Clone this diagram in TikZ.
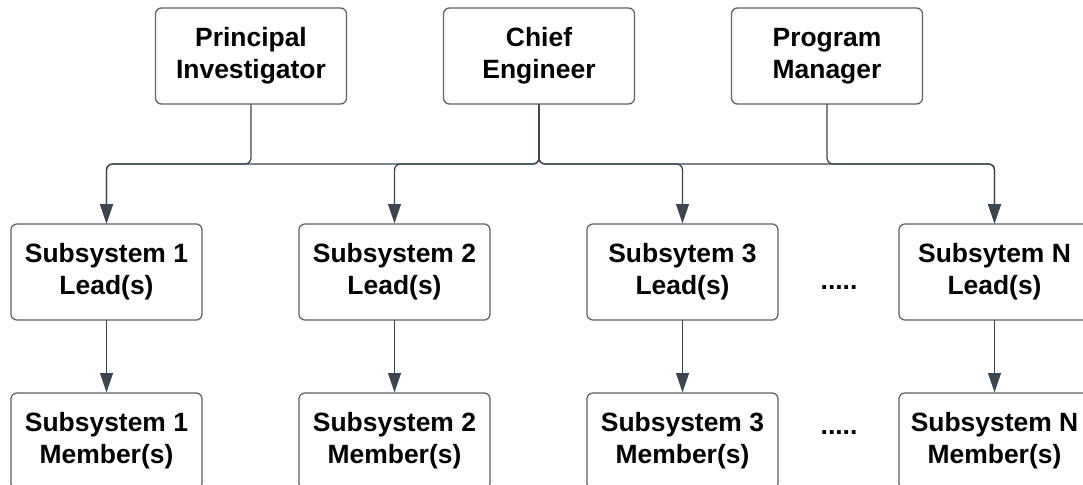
\documentclass[tikz,border=0pt]{standalone}
\usepackage{fontspec}
\setmainfont{Liberation Sans}
\usetikzlibrary{arrows.meta}

\definecolor{boxline}{HTML}{5E6168}
\definecolor{linkline}{HTML}{3F454E}

\tikzset{
  rolebox/.style={draw=boxline, line width=0.9pt, rounded corners=0.15cm, fill=white,
    minimum width=4.775cm, minimum height=2.4cm, inner sep=0pt, align=center,
    font=\bfseries\fontsize{18.8}{22.8}\selectfont},
  link/.style={draw=linkline, line width=0.9pt, rounded corners=0.15cm,
    -{Triangle[length=0.48cm,width=0.32cm]}},
  gap/.style={font=\bfseries\fontsize{18.8}{22.8}\selectfont, inner sep=0pt},
}

\begin{document}
\begin{tikzpicture}[x=0.025cm, y=-0.025cm, line cap=round, line join=round]
\useasboundingbox (0,0) rectangle (1083,485);
\clip (0,0) rectangle (1083,485);
% top row
\node[rolebox] (pi) at (251,56) {Principal\\Investigator};
\node[rolebox] (chief) at (539,56) {Chief\\Engineer};
\node[rolebox] (pm) at (827,56) {Program\\Manager};
\coordinate (bus) at (0,164);
% leads and members
\foreach \i/\x/\lead/\memb in {1/106.5/Subsystem 1/Subsystem 1, 2/394.5/Subsystem 2/Subsystem 2,
    3/682.5/Subsytem 3/Subsystem 3, n/994.5/Subsytem N/Subsystem N} {
  \node[rolebox] (lead\i) at (\x,272) {\lead\\Lead(s)};
  \node[rolebox] (memb\i) at (\x,441) {\memb\\Member(s)};
  \draw[link] (lead\i) -- (memb\i);
}
\node[gap] (dotsa) at (839,288) {.....};
\node[gap] (dotsb) at (839,433) {.....};
% bus
\draw[link] (pi.south) -- (pi.south |- bus) -| (lead1.north);
\draw[link] (chief.south) -- (chief.south |- bus) -| (lead1.north);
\draw[link] (chief.south) -- (chief.south |- bus) -| (lead2.north);
\draw[link] (chief.south) -- (chief.south |- bus) -| (lead3.north);
\draw[link] (chief.south) -- (chief.south |- bus) -| (leadn.north);
\draw[link] (pm.south) -- (pm.south |- bus) -| (leadn.north);
\end{tikzpicture}
\end{document}
